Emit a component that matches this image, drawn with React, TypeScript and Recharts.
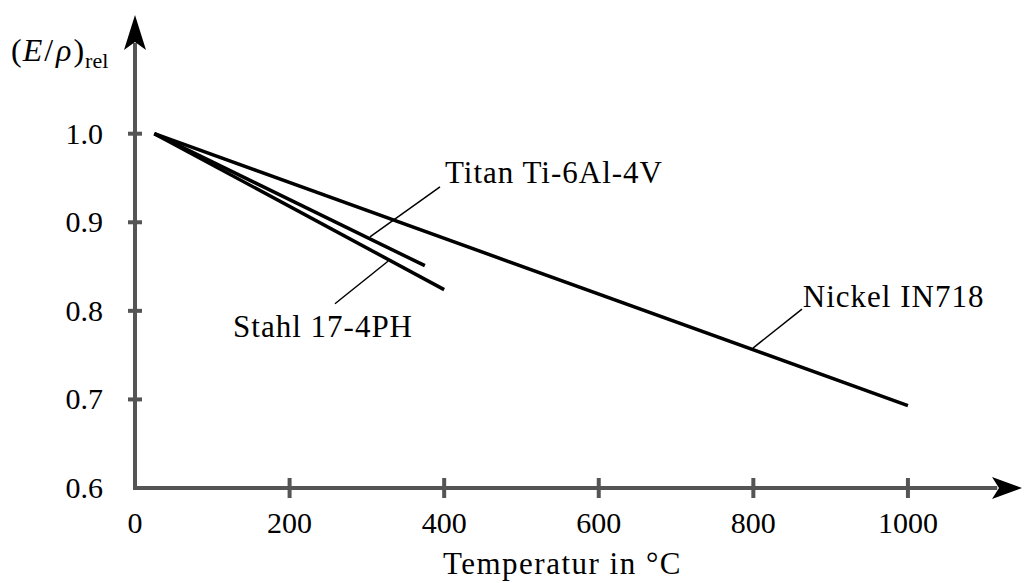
import React from 'react';
import { LineChart, Line, XAxis, YAxis, ReferenceLine, ReferenceDot } from 'recharts';

// Temperaturen (°C) und relative spezifische Steifigkeit (E/rho)_rel
const nickelTemps = [25, 1000];
const nickelValues = [1.0, 0.693];
const titanTemps = [25, 375];
const titanValues = [1.0, 0.851];
const stahlTemps = [25, 400];
const stahlValues = [1.0, 0.824];

const xTicks = [0, 200, 400, 600, 800, 1000];
const yTicks = [0.6, 0.7, 0.8, 0.9, 1.0];

const toPoints = (temps: number[], values: number[]) =>
  temps.map((t, i) => ({ t, v: values[i] }));

const nickelData = toPoints(nickelTemps, nickelValues);
const titanData = toPoints(titanTemps, titanValues);
const stahlData = toPoints(stahlTemps, stahlValues);

// Beschriftungen mit Hinweislinien (in Datenkoordinaten)
const annotations = [
  { text: 'Titan Ti-6Al-4V', at: { x: 401, y: 0.9446 }, anchor: 'start', leader: [{ x: 394.6, y: 0.940 }, { x: 304, y: 0.8836 }] },
  { text: 'Stahl 17-4PH', at: { x: 243.3, y: 0.7706 }, anchor: 'middle', leader: [{ x: 258.7, y: 0.808 }, { x: 327.3, y: 0.856 }] },
  { text: 'Nickel IN718', at: { x: 864, y: 0.8045 }, anchor: 'start', leader: [{ x: 862.9, y: 0.802 }, { x: 799.5, y: 0.758 }] },
];

const X_MAX = 1145;
const Y_MAX = 1.134;
const AXIS = '#555555';
const FONT = '"Liberation Serif", "Times New Roman", serif';

const XTick = (props: any) => {
  const { x, y, payload } = props;
  return (
    <g>
      {payload.value !== 0 && (
        <line x1={x} x2={x} y1={y - 10} y2={y + 10} stroke={AXIS} strokeWidth={4} />
      )}
      <text x={x} y={y + 45} textAnchor="middle" fontSize={30} fontFamily={FONT} fill="#000">
        {payload.value}
      </text>
    </g>
  );
};

const YTick = (props: any) => {
  const { x, y, payload } = props;
  return (
    <g>
      {payload.value !== 0.6 && (
        <line x1={x - 7} x2={x + 7} y1={y} y2={y} stroke={AXIS} strokeWidth={4} />
      )}
      <text x={x - 32} y={y + 10} textAnchor="end" fontSize={30} fontFamily={FONT} fill="#000">
        {payload.value.toFixed(1)}
      </text>
    </g>
  );
};

const App: React.FC = () => {
  return (
    <div style={{ position: 'absolute', left: 0, top: 0, width: 1025, height: 583, background: '#fff' }}>
      <LineChart width={1025} height={583} margin={{ top: 15, right: 5, left: 0, bottom: 0 }}>
        <XAxis
          type="number"
          dataKey="t"
          domain={[0, X_MAX]}
          ticks={xTicks}
          axisLine={false}
          tickLine={false}
          tickSize={0}
          tickMargin={0}
          height={95}
          tick={<XTick />}
          label={{
            content: (p: any) => (
              <text
                x={p.viewBox.x + p.viewBox.width / 2 - 15}
                y={p.viewBox.y + 86}
                textAnchor="middle"
                fontSize={31}
                letterSpacing={1.5}
                fontFamily={FONT}
                fill="#000"
              >
                Temperatur in °C
              </text>
            ),
          }}
        />
        <YAxis
          type="number"
          domain={[0.6, Y_MAX]}
          ticks={yTicks}
          axisLine={false}
          tickLine={false}
          tickSize={0}
          tickMargin={0}
          width={135}
          tick={<YTick />}
          label={{
            content: (p: any) => (
              <text x={p.viewBox.x + 11} y={p.viewBox.y + 46} fontSize={32} fontFamily={FONT} fill="#000">
                <tspan>(</tspan>
                <tspan fontStyle="italic" dx={1}>E</tspan>
                <tspan dx={2}>/</tspan>
                <tspan fontStyle="italic" dx={3}>ρ</tspan>
                <tspan dx={2}>)</tspan>
                <tspan fontSize={22} dx={1} dy={7}>rel</tspan>
              </text>
            ),
          }}
        />

        {/* Achsen mit Pfeilen */}
        <ReferenceLine
          segment={[{ x: 0, y: 0.6 }, { x: 1113, y: 0.6 }]}
          stroke={AXIS}
          strokeWidth={4}
          strokeLinecap="square"
        />
        <ReferenceLine
          segment={[{ x: 0, y: 0.6 }, { x: 0, y: 1.1 }]}
          stroke={AXIS}
          strokeWidth={4}
          strokeLinecap="square"
        />
        <ReferenceDot
          x={X_MAX}
          y={0.6}
          r={0}
          shape={(p: any) => (
            <polygon
              points={`${p.cx + 2},${p.cy} ${p.cx - 28},${p.cy - 11} ${p.cx - 21},${p.cy} ${p.cx - 28},${p.cy + 11}`}
              fill="#000"
            />
          )}
        />
        <ReferenceDot
          x={0}
          y={Y_MAX}
          r={0}
          shape={(p: any) => (
            <polygon
              points={`${p.cx},${p.cy} ${p.cx - 11},${p.cy + 35} ${p.cx},${p.cy + 27} ${p.cx + 11},${p.cy + 35}`}
              fill="#000"
            />
          )}
        />

        {annotations.map((a) => (
          <ReferenceLine key={a.text + '-leader'} segment={a.leader} stroke="#000" strokeWidth={1.5} />
        ))}
        {annotations.map((a) => (
          <ReferenceDot
            key={a.text}
            x={a.at.x}
            y={a.at.y}
            r={0}
            shape={(p: any) => (
              <text x={p.cx} y={p.cy} textAnchor={a.anchor} fontSize={31} letterSpacing={1} fontFamily={FONT} fill="#000">
                {a.text}
              </text>
            )}
          />
        ))}

        <Line data={nickelData} dataKey="v" type="linear" stroke="#000" strokeWidth={3.5} dot={false} isAnimationActive={false} />
        <Line data={titanData} dataKey="v" type="linear" stroke="#000" strokeWidth={3.5} dot={false} isAnimationActive={false} />
        <Line data={stahlData} dataKey="v" type="linear" stroke="#000" strokeWidth={3.5} dot={false} isAnimationActive={false} />
      </LineChart>
    </div>
  );
};

export default App;
